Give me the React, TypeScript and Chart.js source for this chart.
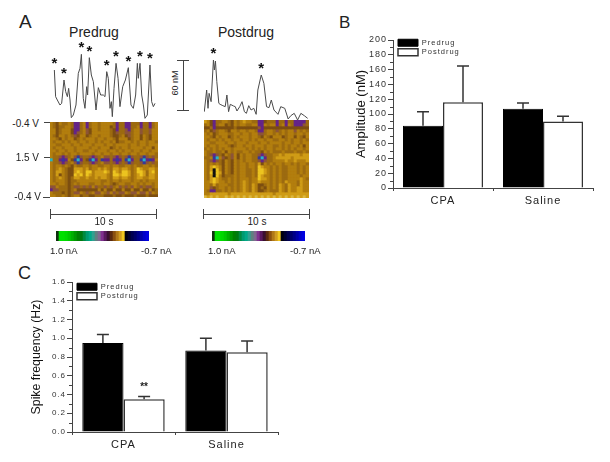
import React, { useEffect, useRef } from "react";
import { Chart, registerables } from "chart.js";

Chart.register(...registerables);

const FONT = '"Liberation Sans", Arial, sans-serif';

// Panel A traces (time in s, dopamine in nM)
const preTimes = [0.41,0.53,0.69,0.94,1.1,1.32,1.48,1.64,1.76,1.89,2.01,2.2,2.45,2.67,2.83,2.96,3.14,3.3,3.46,3.55,3.71,3.9,4.09,4.34,4.56,4.78,5.03,5.19,5.35,5.5,5.66,5.79,5.88,6.04,6.23,6.42,6.6,6.86,7.11,7.39,7.64,7.86,8.08,8.24,8.33,8.49,8.65,8.81,8.96,9.18,9.43,9.59,9.75,9.91];
const preValues = [62.4,30.4,26.4,20.4,22.4,50.4,36.4,30.4,40.4,26.4,5.2,8.4,20.4,58.4,64.4,81.2,28.4,16.4,42.4,32.4,77.2,56.4,48.4,14.4,41.2,32.4,32.4,30.4,60.4,52.4,16.4,24.4,6.4,40.4,70.4,52.4,18.4,42.4,50.4,65.2,20.4,16.4,32.4,70.4,52.4,70.4,32.4,20.4,4.4,8.4,68.4,24.4,18.4,22.4];
const preSpikes = [0,5,15,20,28,34,39,45,50];
const postTimes = [0.03,0.25,0.38,0.48,0.67,0.89,0.98,1.08,1.21,1.4,1.52,1.78,2,2.16,2.32,2.48,2.79,2.95,3.11,3.37,3.59,3.81,4,4.22,4.44,4.7,4.92,5.08,5.4,5.65,5.9,6.13,6.35,6.6,6.98,7.24,7.62,7.94,8.19,8.51,8.83,9.14,9.46,9.78];
const postValues = [12.4,38.4,16.4,34.4,24.4,74.4,62.4,73.2,48.4,22.4,21.2,19.6,18.4,32.4,12.4,21.2,19.2,18.4,13.2,18.4,24.4,12.4,10.4,19.6,14.4,16.4,9.2,38.4,56.4,46.4,18.4,17.2,26.4,14.4,9.2,18.4,16.4,3.6,7.6,10.4,2.4,10.4,7.6,4.4];
const postSpikes = [5, 28];

// Panel A colour plots: one letter per cell, each letter is a current level
const heatLevels: Record<string, string> = {
  a: "#b27e0e", b: "#9c6a10", c: "#7c4e10", d: "#cf9c16", e: "#ecc420",
  f: "#dcb840", p: "#642488", m: "#8c5438", n: "#34389c", t: "#28b4c4", k: "#101010",
};
const preHeat = [
  "abcabb abppba pbaaba aaabpb bppbbb pbbpba",
  "abcbba abppba pbaaba aacbpb bppbba pbbpba",
  "aacbaa acppba mcaaba aabcpb bmpbaa mbbmaa",
  "aacbaa acpmba mcaaaa aabcmb bmmbaa mbbmaa",
  "abcaab abmcaa cbaaba aabccb acmbaa cabcaa",
  "aabcab aacbab aaabaa baabca aacbaa cabcaa",
  "abaaba baabaa baabab aabacb baabab aabaab",
  "aabbaa abaaba aabaaa baabaa aabaab aabaaa",
  "abaaba aabaaa abaaba aacbab aabaaa abaaca",
  "aabaab aabaab baabaa abaaba baabaa baabaa",
  "abaaba baabaa aabaab aabaab aabaab aabaab",
  "abbmpm bamnmb bmpmba mmbmpm bmnmbb mnmbmb",
  "tbbpnp acntpb cntpbn ppbpnp bntpbb ntpnpa",
  "abbmpm bamnmb bmpmba mmbmpm bmnmbb mnmbmb",
  "abaaba bcabba abaabb aabaab baabab baabab",
  "abadab ccddda dbaada dabdda ddabae daadda",
  "abddab ccdeda eeaddd edbeda eedbae edbdea",
  "abdcab ccedea edaddd dabeed eedbad edbdda",
  "abadab cbddaa daadad dabdda ddabad daadda",
  "abaaab cbbaaa aaaaab babaab aaabaa babaaa",
  "aabaab cbabaa abbaab aabcba abbaab abaaba",
  "mmabbb cbmmbm bmambb mbmbam bmbmab mbmmba",
  "pmmbbb cbaccc ccccac accacc accacc accacb",
  "abbbcb cbmmab mbamma bmambm mabmma mmamab",
  "aabbab cbaacb bccbbb cccbcc bcccbc ccbccc",
];
const postHeat = [
  "dacpbb aabcab adaabb ppcbbb pbbpbb ppppb",
  "bacpba acbcab aabbaa ppabaa pbapab pppmb",
  "ccbpcc ccccbc cccccc mpcccc cccccc ccccc",
  "bacmba abcaab aabaab ppbaab mbabaa mabab",
  "abacba aabbaa baabaa mmbaab ababaa baaba",
  "aabcab aacbab aaabaa bcabca aacbaa cabca",
  "abaaba baabaa baabab aabaab baabab aabab",
  "aabbaa abaaba aabaaa baabaa aabaab aabaa",
  "abaaba aabcba abaaba aabaab bababa abaca",
  "bababa baabaa aababa babaab aababa baaba",
  "abbabb acabab baabab bcabab bbabbb abbab",
  "abmpmb cabmac abaabb mpmbba adaddd ddadd",
  "bbanta mcbmac abaabb ntpbba ddddda ddddd",
  "abmpmb cabcab abaabb mpmbba aaadaa daaad",
  "ababab cabcab aabaab dcabab aabaab abaab",
  "abdeda cabcab aabaab edaaba babbaa ababa",
  "abdkea cabcab aabbab eedaba babbaa ababa",
  "abeked cabcab aabbab eedaba babbaa ababa",
  "abdkea cbbbab aabbab edaaba babbaa aabaa",
  "abdeda bbabab aaabaa eddaba babbaa aadab",
  "aadeda ababab adabaa daaaba babdaa abdaa",
  "aabdba aabbab adabda ccbaba bdabda abdaa",
  "aamcba ababab adabda cbcaba bdabda addaa",
  "abppbb ababab adabda ccbabb bdabda addaa",
  "aadddd ddaddd dddddd ddddda dddddd ddddd",
  "fdfdfd dfdfdf dfdfdf dfdfdf dfdfdf dfdfd",
];

// Colour scale shared by both plots
const scaleColours = ["#103010","#00e000","#00e000","#00d800","#00c800","#00b000","#009800","#008000","#007a10","#008a40","#009a70","#00a888","#30a090","#608080","#806890","#80308f","#5a1a60","#3a1030","#5a2a10","#8a5010","#b07818","#d09c20","#f0c820","#000010","#000030","#000050","#00006a","#000088","#0000a8","#0000c8","#0000e0"];

// Panels B and C
const groups = ["CPA", "Saline"];
const seriesNames = ["Predrug", "Postdrug"];
const amplitudePre = [84, 107];
const amplitudePost = [116, 90];
const amplitudePreErr = [19, 8];
const amplitudePostErr = [49, 7];
const frequencyPre = [0.95, 0.87];
const frequencyPost = [0.35, 0.85];
const frequencyPreErr = [0.09, 0.13];
const frequencyPostErr = [0.03, 0.12];

function ChartCanvas({ left, top, width, height, config, filter }: any) {
  const ref = useRef<HTMLCanvasElement | null>(null);
  useEffect(() => {
    const chart = new Chart(ref.current as HTMLCanvasElement, config());
    return () => chart.destroy();
  }, []);
  return (
    <canvas
      ref={ref}
      width={width}
      height={height}
      style={{ position: "absolute", left, top, width, height, filter }}
    />
  );
}

function traceConfig(times: number[], values: number[], spikes: number[]) {
  return () => ({
    type: "line",
    data: {
      datasets: [
        {
          data: times.map((t, i) => ({ x: t, y: values[i] })),
          borderColor: "#4a4a4a",
          borderWidth: 1,
          pointRadius: 0,
          tension: 0,
        },
      ],
    },
    options: {
      animation: false,
      responsive: false,
      plugins: { legend: { display: false }, tooltip: { enabled: false } },
      layout: { padding: 0 },
      scales: {
        x: { type: "linear", min: 0, max: 10, display: false },
        y: { min: 0, max: 102, display: false },
      },
    },
    plugins: [
      {
        id: "stars",
        afterDraw(chart: any) {
          const { ctx, scales } = chart;
          ctx.save();
          ctx.fillStyle = "#111";
          ctx.font = `bold 15px ${FONT}`;
          ctx.textAlign = "center";
          ctx.textBaseline = "middle";
          spikes.forEach((i) => {
            ctx.fillText("*", scales.x.getPixelForValue(times[i]), scales.y.getPixelForValue(values[i]) - 6);
          });
          ctx.restore();
        },
      },
    ],
  });
}

function heatConfig(rows: string[]) {
  const clean = rows.map((r) => r.replace(/ /g, ""));
  const labels = Array.from(clean[0]);
  return () => ({
    type: "bar",
    data: {
      labels: labels.map((_, i) => String(i)),
      datasets: clean.map((row) => ({
        data: labels.map(() => 1),
        backgroundColor: labels.map((_, c) => heatLevels[row.charAt(c)] || heatLevels.a),
        borderWidth: 0,
        barPercentage: 1,
        categoryPercentage: 1,
      })),
    },
    options: {
      animation: false,
      responsive: false,
      plugins: { legend: { display: false }, tooltip: { enabled: false } },
      layout: { padding: 0 },
      scales: {
        x: { stacked: true, display: false },
        y: { stacked: true, display: false, reverse: true, min: 0, max: clean.length },
      },
    },
  });
}

function scaleConfig() {
  return () => ({
    type: "bar",
    data: {
      labels: scaleColours.map((_, i) => String(i)),
      datasets: [
        {
          data: scaleColours.map(() => 1),
          backgroundColor: scaleColours,
          borderWidth: 0,
          barPercentage: 1,
          categoryPercentage: 1,
        },
      ],
    },
    options: {
      animation: false,
      responsive: false,
      plugins: { legend: { display: false }, tooltip: { enabled: false } },
      layout: { padding: 0 },
      scales: { x: { display: false }, y: { display: false, min: 0, max: 1 } },
    },
  });
}

function barConfig(o: any) {
  return () => ({
    type: "bar",
    data: {
      labels: groups,
      datasets: [
        {
          label: seriesNames[0],
          data: o.pre,
          backgroundColor: "#000",
          borderColor: "#000",
          borderWidth: 1,
          categoryPercentage: 0.8,
          barPercentage: 1,
        },
        {
          label: seriesNames[1],
          data: o.post,
          backgroundColor: "#fff",
          borderColor: "#333",
          borderWidth: 1.5,
          categoryPercentage: 0.8,
          barPercentage: 1,
        },
      ],
    },
    options: {
      animation: false,
      responsive: false,
      layout: { padding: o.padding },
      plugins: {
        tooltip: { enabled: false },
        legend: {
          position: "chartArea",
          align: "start",
          labels: {
            boxWidth: 20,
            boxHeight: 7,
            padding: 2,
            color: "#333",
            font: { family: FONT, size: 7.5 },
          },
        },
      },
      scales: {
        x: {
          afterFit: (s: any) => { s.height = o.xHeight; },
          grid: { display: true, drawOnChartArea: false, offset: true, tickLength: 3, tickColor: "#444" },
          border: { color: "#444", width: 1 },
          ticks: { color: "#222", font: { family: FONT, size: 11 }, padding: 3 },
        },
        y: {
          min: 0,
          max: o.max,
          afterFit: (s: any) => { s.width = o.yWidth; },
          grid: { display: true, drawOnChartArea: false, tickLength: 5, tickColor: "#444" },
          border: { color: "#444", width: 1 },
          ticks: {
            stepSize: o.step,
            color: "#333",
            padding: 1,
            font: { family: FONT, size: o.tickSize },
            callback: (v: number) => (o.decimals ? v.toFixed(o.decimals) : String(v)),
          },
          title: {
            display: true,
            text: o.title,
            color: "#111",
            padding: 0,
            font: { family: FONT, size: o.titleSize },
          },
        },
      },
    },
    plugins: [
      {
        id: "spacing",
        afterLayout(chart: any) {
          chart.legend.left += 3;
          chart.legend.top += o.legendDrop;
        },
        beforeDraw(chart: any) {
          const ctx = chart.ctx;
          const y = chart.scales.y;
          if (!y.__plainTitle) {
            const original = y.drawTitle;
            y.drawTitle = function () {
              ctx.letterSpacing = "0px";
              original.call(this);
              ctx.letterSpacing = "1px";
            };
            y.__plainTitle = true;
          }
          ctx.letterSpacing = "1px";
        },
      },
      {
        id: "marks",
        afterDatasetsDraw(chart: any) {
          const { ctx, scales } = chart;
          const y = scales.y;
          ctx.save();
          ctx.letterSpacing = "0px";
          ctx.strokeStyle = "#444";
          ctx.lineWidth = 1;
          for (let v = o.step / 2; v < o.max; v += o.step) {
            const p = Math.round(y.getPixelForValue(v)) + 0.5;
            ctx.beginPath();
            ctx.moveTo(y.right - 3, p);
            ctx.lineTo(y.right, p);
            ctx.stroke();
          }
          ctx.strokeStyle = "#333";
          ctx.lineWidth = 1.5;
          [o.preErr, o.postErr].forEach((errs: number[], d: number) => {
            const meta = chart.getDatasetMeta(d);
            meta.data.forEach((bar: any, i: number) => {
              const val = d === 0 ? o.pre[i] : o.post[i];
              const top = y.getPixelForValue(val + errs[i]);
              ctx.beginPath();
              ctx.moveTo(bar.x, y.getPixelForValue(val));
              ctx.lineTo(bar.x, top);
              ctx.moveTo(bar.x - 6, top);
              ctx.lineTo(bar.x + 6, top);
              ctx.stroke();
            });
          });
          if (o.mark) {
            const bar = chart.getDatasetMeta(1).data[0];
            ctx.fillStyle = "#222";
            ctx.font = `bold 10px ${FONT}`;
            ctx.textAlign = "center";
            ctx.fillText(o.mark, bar.x, y.getPixelForValue(o.post[0] + o.postErr[0]) - 6);
          }
          ctx.restore();
        },
      },
    ],
  });
}

const Txt = ({ x, y, size = 10, align = "left", children, rotate, color = "#222" }: any) => (
  <div
    style={{
      position: "absolute",
      left: align === "left" ? x : undefined,
      right: align === "right" ? 610 - x : undefined,
      ...(align === "center" ? { left: x, transform: "translateX(-50%)" } : {}),
      ...(rotate ? { left: x, transform: `translate(-50%,-50%) rotate(${rotate}deg)` } : {}),
      top: y,
      fontFamily: FONT,
      fontSize: size,
      lineHeight: 1,
      whiteSpace: "nowrap",
      color,
    }}
  >
    {children}
  </div>
);

const Rule = ({ x, y, w = 1, h = 1, color = "#444" }: any) => (
  <div style={{ position: "absolute", left: x, top: y, width: w, height: h, background: color }} />
);

export default function App() {
  return (
    <div style={{ position: "fixed", left: 0, top: 0, width: 610, height: 462, background: "#fff", overflow: "hidden" }}>
      <Txt x={19} y={12} size={19} color="#222">A</Txt>
      <Txt x={339} y={14} size={17} color="#222">B</Txt>
      <Txt x={18} y={264} size={18} color="#222">C</Txt>

      <Txt x={94} y={25} size={14} align="center">Predrug</Txt>
      <Txt x={246} y={25} size={14} align="center">Postdrug</Txt>

      <ChartCanvas left={50} top={37} width={106} height={85} config={traceConfig(preTimes, preValues, preSpikes)} filter="blur(0.3px)" />
      <ChartCanvas left={204} top={37} width={106} height={85} config={traceConfig(postTimes, postValues, postSpikes)} filter="blur(0.3px)" />

      <Rule x={183} y={60} h={50} />
      <Rule x={177} y={60} w={12} />
      <Rule x={177} y={110} w={12} />
      <Txt x={175} y={83} size={9} rotate={-90}>60 nM</Txt>

      <ChartCanvas left={50} top={122} width={108} height={75} config={heatConfig(preHeat)} filter="blur(0.6px)" />
      <ChartCanvas left={204} top={120} width={105} height={78} config={heatConfig(postHeat)} filter="blur(0.6px)" />

      <Txt x={39} y={119} size={10} align="right">-0.4 V</Txt>
      <Txt x={39} y={153} size={10} align="right">1.5 V</Txt>
      <Txt x={41} y={192} size={10} align="right">-0.4 V</Txt>
      <Rule x={44} y={122} w={6} />
      <Rule x={44} y={157} w={6} />
      <Rule x={43} y={197} w={7} />

      <Rule x={50} y={214} w={106} />
      <Rule x={50} y={209} h={10} />
      <Rule x={156} y={209} h={10} />
      <Txt x={104} y={217} size={10} align="center">10 s</Txt>
      <Rule x={203} y={214} w={106} />
      <Rule x={203} y={209} h={10} />
      <Rule x={309} y={209} h={10} />
      <Txt x={257} y={217} size={10} align="center">10 s</Txt>

      <ChartCanvas left={56} top={231} width={93} height={10} config={scaleConfig()} filter="blur(0.3px)" />
      <ChartCanvas left={212} top={231} width={93} height={10} config={scaleConfig()} filter="blur(0.3px)" />
      <Txt x={50} y={246} size={9.5}>1.0 nA</Txt>
      <Txt x={141} y={246} size={9.5}>-0.7 nA</Txt>
      <Txt x={208} y={246} size={9.5}>1.0 nA</Txt>
      <Txt x={290} y={246} size={9.5}>-0.7 nA</Txt>

      <ChartCanvas
        left={354}
        top={30}
        width={248}
        height={180}
        filter="blur(0.3px)"
        config={barConfig({
          pre: amplitudePre,
          post: amplitudePost,
          preErr: amplitudePreErr,
          postErr: amplitudePostErr,
          max: 200,
          step: 20,
          title: "Amplitude (nM)",
          padding: { top: 10, right: 9, left: 0, bottom: 0 },
          xHeight: 22,
          yWidth: 39,
          tickSize: 9,
          titleSize: 13,
          legendDrop: 7,
        })}
      />
      <ChartCanvas
        left={29}
        top={272}
        width={255}
        height={190}
        filter="blur(0.3px)"
        config={barConfig({
          pre: frequencyPre,
          post: frequencyPost,
          preErr: frequencyPreErr,
          postErr: frequencyPostErr,
          max: 1.6,
          step: 0.2,
          decimals: 1,
          title: "Spike frequency (Hz)",
          mark: "**",
          padding: { top: 10, right: 6, left: 0, bottom: 8 },
          xHeight: 22,
          yWidth: 43,
          tickSize: 8,
          titleSize: 12.3,
          legendDrop: 9,
        })}
      />
    </div>
  );
}
